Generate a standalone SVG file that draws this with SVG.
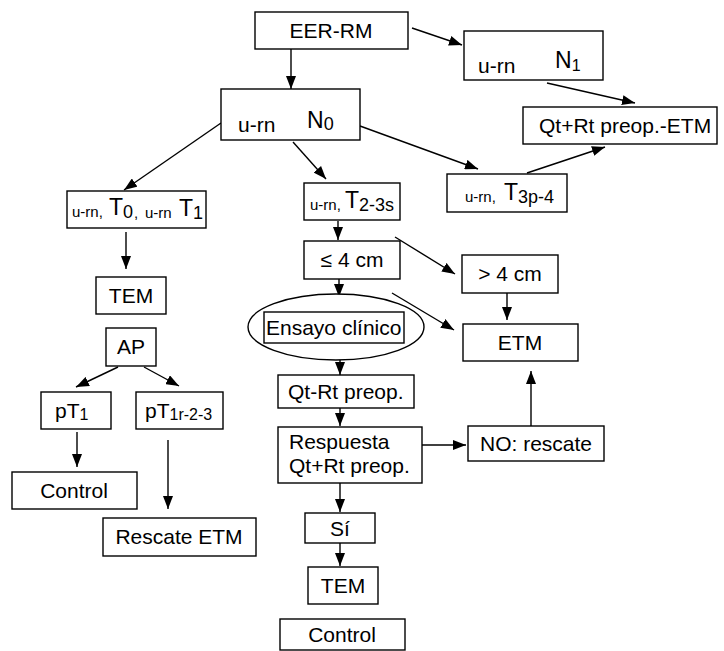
<svg xmlns="http://www.w3.org/2000/svg" width="724" height="651" viewBox="0 0 724 651">
<style>
rect.b{fill:#fff;stroke:#000;stroke-width:1.4}
ellipse{fill:#fff;stroke:#000;stroke-width:1.4}
text{font-family:"Liberation Sans",Arial,sans-serif;font-size:21px;fill:#000}
.s{font-size:15px}
.t{font-size:23px}
.sub{font-size:18px}
.sub2{font-size:16px}
.c{text-anchor:middle}
#connectors line{stroke:#000;stroke-width:1.4;marker-end:url(#ah)}
</style>
<defs>
<marker id="ah" markerUnits="userSpaceOnUse" markerWidth="13" markerHeight="10" refX="13" refY="5" orient="auto">
<path d="M0,0 L13,5 L0,10 z" fill="#000"/>
</marker>
</defs>
<rect width="724" height="651" fill="#fff"/>
<g id="connectors">
<line x1="291" y1="49" x2="291" y2="89"/>
<line x1="412" y1="28" x2="462" y2="45"/>
<line x1="547" y1="83" x2="635" y2="103"/>
<line x1="360" y1="126" x2="478" y2="169"/>
<line x1="527" y1="173" x2="605" y2="147"/>
<line x1="221" y1="123" x2="124" y2="190"/>
<line x1="293" y1="142" x2="326" y2="179"/>
<line x1="126" y1="232" x2="126" y2="269"/>
<line x1="118" y1="367" x2="76" y2="387"/>
<line x1="144" y1="367" x2="179" y2="386"/>
<line x1="77" y1="432" x2="77" y2="467"/>
<line x1="168" y1="440" x2="168" y2="509"/>
<line x1="338" y1="221" x2="338" y2="240"/>
<line x1="395" y1="237" x2="455" y2="274"/>
<line x1="507" y1="293" x2="507" y2="320"/>
<line x1="392" y1="293" x2="454" y2="330"/>
<line x1="339" y1="279" x2="339" y2="297"/>
<line x1="340" y1="347" x2="340" y2="375"/>
<line x1="340" y1="408" x2="340" y2="426"/>
<line x1="422" y1="445" x2="466" y2="445"/>
<line x1="531" y1="426" x2="531" y2="371"/>
<line x1="340" y1="483" x2="340" y2="512"/>
<line x1="340" y1="543" x2="340" y2="566"/>
</g>
<g id="eer-rm"><rect class="b" x="255" y="12" width="153" height="37"/><text class="c" x="331" y="38">EER-RM</text></g>
<g id="n0"><rect class="b" x="221" y="89" width="139" height="51"/><text x="238" y="132">u-rn</text><text class="t" x="307" y="128">N<tspan class="sub" dy="2">0</tspan></text></g>
<g id="n1"><rect class="b" x="464" y="31" width="139" height="49"/><text x="478" y="73">u-rn</text><text class="t" x="555" y="68">N<tspan class="sub2" dy="3">1</tspan></text></g>
<g id="qtrt-etm"><rect class="b" x="523" y="107" width="194" height="37"/><text x="539" y="133">Qt+Rt preop.-ETM</text></g>
<g id="t3p4"><rect class="b" x="447" y="174" width="120" height="38"/><text y="202"><tspan class="s" x="465">u-rn,</tspan><tspan class="t" x="504" dy="-2">T</tspan><tspan class="sub" x="518" dy="3">3p-4</tspan></text></g>
<g id="t01"><rect class="b" x="67" y="191" width="139" height="37"/><text y="217"><tspan class="s" x="72">u-rn,</tspan><tspan class="t" x="109" dy="-2">T</tspan><tspan class="sub" x="123" dy="3">0</tspan><tspan class="s" x="134">,</tspan><tspan class="s" x="145">u-rn</tspan><tspan class="t" x="179" dy="-2">T</tspan><tspan class="sub" x="193" dy="3">1</tspan></text></g>
<g id="tem1"><rect class="b" x="96" y="277" width="70" height="37"/><text class="c" x="131" y="303">TEM</text></g>
<g id="ap"><rect class="b" x="106" y="328" width="50" height="38"/><text class="c" x="131" y="354">AP</text></g>
<g id="pt1"><rect class="b" x="41" y="392" width="70" height="37"/><text x="55" y="418">pT<tspan class="sub2" dy="2">1</tspan></text></g>
<g id="pt123"><rect class="b" x="136" y="392" width="87" height="37"/><text x="145" y="418">pT<tspan class="sub2" dy="2">1r-2-3</tspan></text></g>
<g id="control1"><rect class="b" x="12" y="472" width="125" height="37"/><text class="c" x="74" y="498">Control</text></g>
<g id="rescate-etm"><rect class="b" x="103" y="518" width="153" height="38"/><text class="c" x="179" y="544">Rescate ETM</text></g>
<g id="t23s"><rect class="b" x="304" y="183" width="96" height="37"/><text y="210"><tspan class="s" x="310">u-rn,</tspan><tspan class="t" x="345" dy="-2">T</tspan><tspan class="sub" x="359" dy="3">2-3s</tspan></text></g>
<g id="le4"><rect class="b" x="304" y="241" width="96" height="38"/><text class="c" x="352" y="267">≤ 4 cm</text></g>
<g id="gt4"><rect class="b" x="462" y="255" width="96" height="38"/><text class="c" x="510" y="281">&gt; 4 cm</text></g>
<g id="etm"><rect class="b" x="463" y="324" width="115" height="37"/><text class="c" x="520" y="350">ETM</text></g>
<g id="ensayo"><ellipse cx="336" cy="327" rx="88" ry="33"/><rect class="b" x="264" y="312" width="140" height="31"/><text x="266" y="335">Ensayo clínico</text></g>
<g id="qtrt"><rect class="b" x="278" y="375" width="136" height="33"/><text x="288" y="399">Qt-Rt preop.</text></g>
<g id="respuesta"><rect class="b" x="278" y="427" width="144" height="56"/><text x="289" y="449">Respuesta</text><text x="289" y="473">Qt+Rt preop.</text></g>
<g id="no-rescate"><rect class="b" x="468" y="426" width="136" height="35"/><text class="c" x="536" y="451">NO: rescate</text></g>
<g id="si"><rect class="b" x="305" y="513" width="70" height="30"/><text class="c" x="340" y="536">Sí</text></g>
<g id="tem2"><rect class="b" x="308" y="567" width="70" height="37"/><text class="c" x="343" y="593">TEM</text></g>
<g id="control2"><rect class="b" x="280" y="619" width="125" height="31"/><text class="c" x="342" y="642">Control</text></g>
</svg>
